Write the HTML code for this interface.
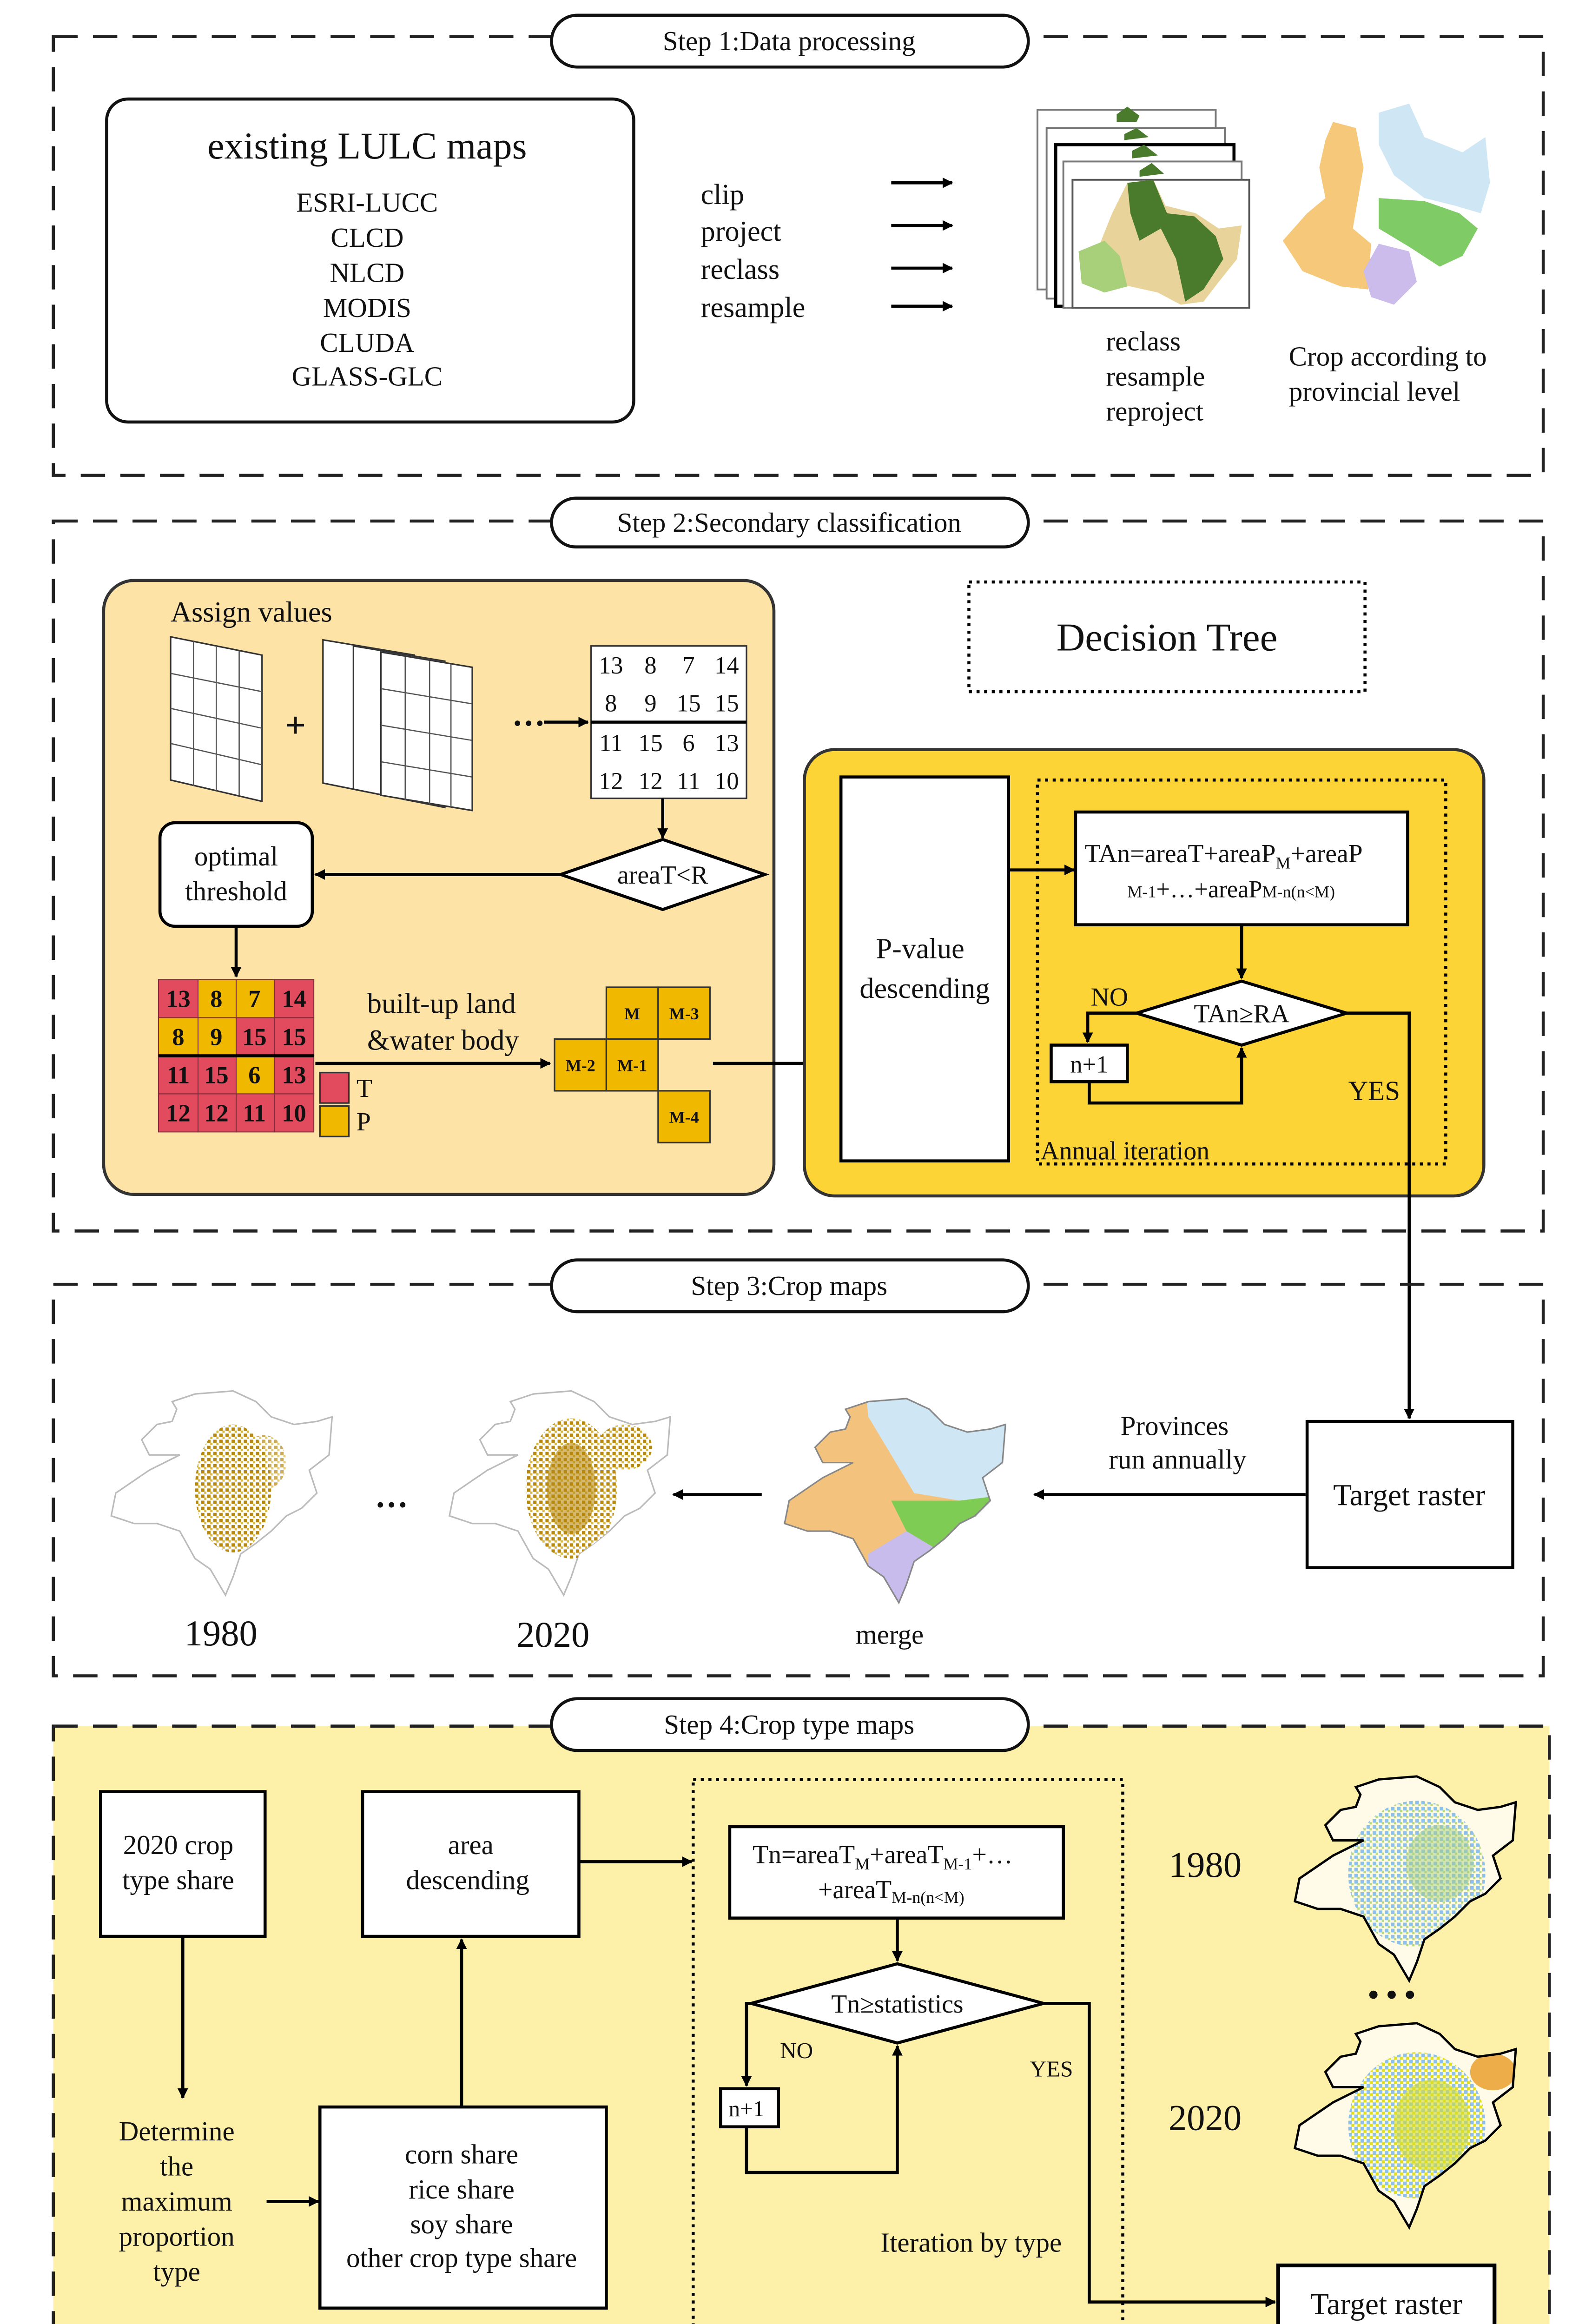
<!DOCTYPE html>
<html><head><meta charset="utf-8"><style>
html,body{margin:0;padding:0;background:#fff;width:3425px;height:5169px;overflow:hidden}
svg{display:block;position:absolute;left:0;top:0}
text{font-family:"Liberation Serif",serif;fill:#111}
</style></head><body>
<svg xmlns="http://www.w3.org/2000/svg" width="3425" height="5169" viewBox="0 0 1045 1577" preserveAspectRatio="none">
<defs>
<marker id="ar" viewBox="0 0 10 10" refX="9" refY="5" markerWidth="7" markerHeight="7" orient="auto-start-reverse" markerUnits="userSpaceOnUse"><path d="M0,0 L10,5 L0,10 z" fill="#000"/></marker>
<path id="ne" d="M45,15 L60,10 L85,8 L100,15 L110,25 L125,30 L140,28 L150,25 L148,50 L135,60 L140,75 L130,85 L120,90 L110,100 L100,108 L90,115 L85,130 L80,142 L70,125 L60,118 L50,100 L35,95 L20,95 L5,90 L8,75 L30,60 L50,50 L30,50 L25,40 L35,30 L45,28 L48,20 Z"/>
<clipPath id="neclip"><use href="#ne"/></clipPath>
<pattern id="dots" width="4" height="4" patternUnits="userSpaceOnUse"><rect width="4" height="4" fill="#fff"/><rect x="0" y="0" width="2.2" height="2.2" fill="#b8890f"/><rect x="2" y="2" width="1.5" height="1.5" fill="#d8b840"/></pattern>
<pattern id="bdots" width="4" height="4" patternUnits="userSpaceOnUse"><rect width="4" height="4" fill="#fffbe0"/><rect x="0" y="0" width="2.4" height="2.4" fill="#8ec0ec"/><rect x="2" y="2" width="1.5" height="1.5" fill="#b8d880"/></pattern>
<pattern id="ydots" width="4" height="4" patternUnits="userSpaceOnUse"><rect width="4" height="4" fill="#fffbe0"/><rect x="0" y="0" width="2.4" height="2.4" fill="#8ec0ec"/><rect x="2" y="2" width="2" height="2" fill="#e0e020"/></pattern>
</defs>

<!-- STEP 1 -->
<rect x="35" y="24" width="978" height="288" fill="none" stroke="#222" stroke-width="2" stroke-dasharray="16,10"/>
<rect x="362" y="10" width="313" height="34" rx="17" fill="#fff" stroke="#111" stroke-width="2"/>
<text x="518" y="33" font-size="18" text-anchor="middle">Step  1:Data processing</text>
<rect x="70" y="65" width="346" height="212" rx="14" fill="#fff" stroke="#111" stroke-width="2"/>
<text x="241" y="104" font-size="25" text-anchor="middle">existing LULC maps</text>
<g font-size="18" text-anchor="middle">
<text x="241" y="139">ESRI-LUCC</text><text x="241" y="162">CLCD</text><text x="241" y="185">NLCD</text>
<text x="241" y="208">MODIS</text><text x="241" y="231">CLUDA</text><text x="241" y="253">GLASS-GLC</text></g>
<g font-size="19"><text x="460" y="134">clip</text><text x="460" y="158">project</text><text x="460" y="183">reclass</text><text x="460" y="208">resample</text></g>
<g stroke="#000" stroke-width="2" marker-end="url(#ar)"><line x1="585" y1="120" x2="625" y2="120"/><line x1="585" y1="148" x2="625" y2="148"/><line x1="585" y1="176" x2="625" y2="176"/><line x1="585" y1="201" x2="625" y2="201"/></g>
<!-- stacked maps -->
<g stroke="#777" stroke-width="1.2" fill="#fff">
<rect x="681" y="72" width="117" height="118"/><rect x="687" y="84" width="117" height="112"/>
<rect x="693" y="95" width="117" height="106" stroke="#000" stroke-width="2"/><rect x="698" y="106" width="117" height="96"/>
<rect x="704" y="118" width="116" height="84" stroke="#555"/></g>
<g fill="#4a7a2c"><path d="M733,75 L740,70 L748,76 L746,80 L733,80Z"/><path d="M738,88 L746,84 L754,90 L738,92Z"/><path d="M743,99 L751,95 L760,102 L743,104Z"/><path d="M748,112 L756,107 L764,114 L748,116Z"/></g>
<path d="M740,120 L757,118 L765,135 L785,140 L800,150 L815,148 L812,170 L800,185 L790,198 L775,200 L760,192 L742,188 L712,185 L708,165 L722,160 L730,140 Z" fill="#e8d49a"/>
<path d="M740,120 L757,118 L766,140 L784,142 L798,155 L803,170 L790,190 L778,198 L772,170 L762,150 L748,158 L742,140 Z" fill="#4a7a2c"/>
<path d="M708,165 L725,158 L735,168 L740,188 L725,192 L710,186 Z" fill="#a8d07a"/>
<!-- province map -->
<path d="M870,92 L875,80 L890,84 L895,110 L888,150 L900,160 L898,190 L880,188 L855,178 L842,158 L858,140 L870,130 L866,110 Z" fill="#f5c87a"/>
<path d="M905,74 L925,68 L935,90 L960,100 L975,90 L978,120 L972,140 L955,135 L935,130 L915,115 L905,95 Z" fill="#cfe7f4"/>
<path d="M905,130 L935,132 L958,140 L970,150 L960,168 L945,175 L925,162 L905,150 Z" fill="#7fcc66"/>
<path d="M905,160 L925,165 L930,185 L915,200 L900,195 L895,178 Z" fill="#cbbcec"/>
<g font-size="18"><text x="726" y="230">reclass</text><text x="726" y="253">resample</text><text x="726" y="276">reproject</text>
<text x="846" y="240">Crop according to</text><text x="846" y="263">provincial level</text></g>

<!-- STEP 2 -->
<rect x="35" y="342" width="978" height="466" fill="none" stroke="#222" stroke-width="2" stroke-dasharray="16,10"/>
<rect x="362" y="327" width="313" height="32" rx="16" fill="#fff" stroke="#111" stroke-width="2"/>
<text x="518" y="349" font-size="18" text-anchor="middle">Step  2:Secondary classification</text>
<rect x="68" y="381" width="440" height="403" rx="20" fill="#fde3a6" stroke="#333" stroke-width="2"/>
<text x="112" y="408" font-size="19">Assign values</text>
<g fill="#fff" stroke="#333" stroke-width="1">
<path d="M112,418 L172,430 L172,526 L112,512 Z"/>
<path d="M212,420 L272,430 L272,526 L212,514 Z"/><path d="M232,424 L292,434 L292,530 L232,518 Z"/><path d="M250,428 L310,438 L310,532 L250,522 Z"/></g>
<g stroke="#555" stroke-width="0.8"><line x1="127" y1="421" x2="127" y2="516"/><line x1="142" y1="424" x2="142" y2="519"/><line x1="157" y1="427" x2="157" y2="522"/>
<line x1="112" y1="442" x2="172" y2="454"/><line x1="112" y1="465" x2="172" y2="478"/><line x1="112" y1="488" x2="172" y2="502"/>
<line x1="266" y1="431" x2="266" y2="525"/><line x1="282" y1="434" x2="282" y2="528"/><line x1="296" y1="436" x2="296" y2="530"/>
<line x1="250" y1="452" x2="310" y2="462"/><line x1="250" y1="476" x2="310" y2="486"/><line x1="250" y1="500" x2="310" y2="510"/></g>
<text x="194" y="484" font-size="24" text-anchor="middle" font-weight="bold">+</text>
<text x="336" y="482" font-size="22" font-weight="bold">···</text>
<line x1="357" y1="474" x2="386" y2="474" stroke="#000" stroke-width="2" marker-end="url(#ar)"/>
<rect x="388" y="424" width="102" height="100" fill="#fff" stroke="#333"/>
<line x1="388" y1="474" x2="490" y2="474" stroke="#000" stroke-width="2"/>
<g font-size="16" text-anchor="middle">
<text x="401" y="442">13</text><text x="427" y="442">8</text><text x="452" y="442">7</text><text x="477" y="442">14</text>
<text x="401" y="467">8</text><text x="427" y="467">9</text><text x="452" y="467">15</text><text x="477" y="467">15</text>
<text x="401" y="493">11</text><text x="427" y="493">15</text><text x="452" y="493">6</text><text x="477" y="493">13</text>
<text x="401" y="518">12</text><text x="427" y="518">12</text><text x="452" y="518">11</text><text x="477" y="518">10</text></g>
<line x1="435" y1="524" x2="435" y2="550" stroke="#000" stroke-width="2" marker-end="url(#ar)"/>
<path d="M368,574 L435,551 L502,574 L435,597 Z" fill="#fff" stroke="#000" stroke-width="2"/>
<text x="435" y="580" font-size="17" text-anchor="middle">areaT&lt;R</text>
<line x1="368" y1="574" x2="207" y2="574" stroke="#000" stroke-width="2" marker-end="url(#ar)"/>
<rect x="105" y="540" width="100" height="68" rx="10" fill="#fff" stroke="#000" stroke-width="2"/>
<text x="155" y="568" font-size="18" text-anchor="middle">optimal</text><text x="155" y="591" font-size="18" text-anchor="middle">threshold</text>
<line x1="155" y1="608" x2="155" y2="641" stroke="#000" stroke-width="2" marker-end="url(#ar)"/>
<g stroke="#7a2a3a" stroke-width="0.6">
<rect x="104" y="643" width="26" height="25" fill="#e24a5e"/><rect x="130" y="643" width="25" height="25" fill="#f1b800"/><rect x="155" y="643" width="25" height="25" fill="#f1b800"/><rect x="180" y="643" width="26" height="25" fill="#e24a5e"/>
<rect x="104" y="668" width="26" height="25" fill="#f1b800"/><rect x="130" y="668" width="25" height="25" fill="#f1b800"/><rect x="155" y="668" width="25" height="25" fill="#e24a5e"/><rect x="180" y="668" width="26" height="25" fill="#e24a5e"/>
<rect x="104" y="693" width="26" height="25" fill="#e24a5e"/><rect x="130" y="693" width="25" height="25" fill="#e24a5e"/><rect x="155" y="693" width="25" height="25" fill="#f1b800"/><rect x="180" y="693" width="26" height="25" fill="#e24a5e"/>
<rect x="104" y="718" width="26" height="25" fill="#e24a5e"/><rect x="130" y="718" width="25" height="25" fill="#e24a5e"/><rect x="155" y="718" width="25" height="25" fill="#e24a5e"/><rect x="180" y="718" width="26" height="25" fill="#e24a5e"/></g>
<line x1="104" y1="693" x2="206" y2="693" stroke="#000" stroke-width="2"/>
<g font-size="16" text-anchor="middle" font-weight="bold">
<text x="117" y="661">13</text><text x="142" y="661">8</text><text x="167" y="661">7</text><text x="193" y="661">14</text>
<text x="117" y="686">8</text><text x="142" y="686">9</text><text x="167" y="686">15</text><text x="193" y="686">15</text>
<text x="117" y="711">11</text><text x="142" y="711">15</text><text x="167" y="711">6</text><text x="193" y="711">13</text>
<text x="117" y="736">12</text><text x="142" y="736">12</text><text x="167" y="736">11</text><text x="193" y="736">10</text></g>
<rect x="210" y="704" width="19" height="20" fill="#e24a5e" stroke="#333" stroke-width="1"/>
<rect x="210" y="726" width="19" height="20" fill="#f1b800" stroke="#333" stroke-width="1"/>
<text x="234" y="720" font-size="17">T</text><text x="234" y="742" font-size="17">P</text>
<text x="241" y="665" font-size="19">built-up land</text><text x="241" y="689" font-size="19">&amp;water body</text>
<line x1="207" y1="698" x2="361" y2="698" stroke="#000" stroke-width="2" marker-end="url(#ar)"/>
<g fill="#f1b800" stroke="#333" stroke-width="1">
<rect x="398" y="648" width="34" height="34"/><rect x="432" y="648" width="34" height="34"/>
<rect x="364" y="682" width="34" height="34"/><rect x="398" y="682" width="34" height="34"/>
<rect x="432" y="716" width="34" height="34"/></g>
<g font-size="11" font-weight="bold" text-anchor="middle" style="font-family:'Liberation Sans',sans-serif">
<text x="415" y="669">M</text><text x="449" y="669">M-3</text><text x="381" y="703">M-2</text><text x="415" y="703">M-1</text><text x="449" y="737">M-4</text></g>
<line x1="468" y1="698" x2="550" y2="698" stroke="#000" stroke-width="2" marker-end="url(#ar)"/>
<rect x="636" y="382" width="260" height="72" fill="#fff" stroke="#000" stroke-width="2" stroke-dasharray="2,3"/>
<text x="766" y="427" font-size="26" text-anchor="middle">Decision Tree</text>
<rect x="528" y="492" width="446" height="293" rx="20" fill="#fdd436" stroke="#333" stroke-width="2"/>
<rect x="552" y="510" width="110" height="252" fill="#fff" stroke="#000" stroke-width="2"/>
<text x="604" y="629" font-size="19" text-anchor="middle">P-value</text><text x="607" y="655" font-size="19" text-anchor="middle">descending</text>
<rect x="681" y="512" width="268" height="252" fill="none" stroke="#000" stroke-width="2" stroke-dasharray="2,3"/>
<line x1="662" y1="571" x2="705" y2="571" stroke="#000" stroke-width="2" marker-end="url(#ar)"/>
<rect x="706" y="533" width="218" height="74" fill="#fff" stroke="#000" stroke-width="2"/>
<text x="712" y="566" font-size="17">TAn=areaT+areaP<tspan font-size="11" dy="4">M</tspan><tspan dy="-4">+areaP</tspan></text>
<text x="740" y="589" font-size="11">M-1<tspan font-size="16">+…+areaP</tspan>M-n(n&lt;M)</text>
<line x1="815" y1="607" x2="815" y2="642" stroke="#000" stroke-width="2" marker-end="url(#ar)"/>
<path d="M746,665 L815,644 L884,665 L815,686 Z" fill="#fff" stroke="#000" stroke-width="2"/>
<text x="815" y="671" font-size="17" text-anchor="middle">TAn≥RA</text>
<text x="716" y="660" font-size="17">NO</text>
<polyline points="746,665 714,665 714,684" fill="none" stroke="#000" stroke-width="2" marker-end="url(#ar)"/>
<rect x="690" y="686" width="50" height="24" fill="#fff" stroke="#000" stroke-width="2"/>
<text x="715" y="704" font-size="16" text-anchor="middle">n+1</text>
<polyline points="715,710 715,724 815,724 815,688" fill="none" stroke="#000" stroke-width="2" marker-end="url(#ar)"/>
<text x="885" y="722" font-size="18">YES</text>
<text x="683" y="761" font-size="17">Annual iteration</text>
<polyline points="884,665 925,665 925,931" fill="none" stroke="#000" stroke-width="2" marker-end="url(#ar)"/>

<!-- STEP 3 -->
<rect x="35" y="843" width="978" height="257" fill="none" stroke="#222" stroke-width="2" stroke-dasharray="16,10"/>
<rect x="362" y="827" width="313" height="34" rx="17" fill="#fff" stroke="#111" stroke-width="2"/>
<text x="518" y="850" font-size="18" text-anchor="middle">Step  3:Crop maps</text>
<g transform="translate(68,905)">
<use href="#ne" fill="#fff" stroke="#bbb" stroke-width="1"/>
<g clip-path="url(#neclip)"><ellipse cx="85" cy="72" rx="25" ry="42" fill="url(#dots)"/><ellipse cx="105" cy="55" rx="15" ry="18" fill="url(#dots)" opacity="0.7"/></g></g>
<g transform="translate(290,905)">
<use href="#ne" fill="#fff" stroke="#bbb" stroke-width="1"/>
<g clip-path="url(#neclip)"><ellipse cx="85" cy="72" rx="30" ry="46" fill="url(#dots)"/><ellipse cx="120" cy="45" rx="18" ry="15" fill="url(#dots)"/><ellipse cx="85" cy="72" rx="16" ry="30" fill="#b8890f" opacity="0.6"/></g></g>
<text x="246" y="995" font-size="22" font-weight="bold">···</text>
<text x="145" y="1080" font-size="24" text-anchor="middle">1980</text>
<text x="363" y="1081" font-size="24" text-anchor="middle">2020</text>
<line x1="500" y1="981" x2="442" y2="981" stroke="#000" stroke-width="2" marker-end="url(#ar)"/>
<g transform="translate(510,910)">
<g clip-path="url(#neclip)">
<rect x="0" y="0" width="160" height="150" fill="#f3c27c"/>
<path d="M58,0 L160,0 L160,70 L120,75 L90,70 L75,45 L60,20 Z" fill="#cfe7f4"/>
<path d="M75,75 L120,75 L160,70 L160,110 L110,110 L85,95 Z" fill="#7fcc55"/>
<path d="M60,110 L85,95 L110,110 L95,150 L60,150 Z" fill="#c8bcec"/></g>
<use href="#ne" fill="none" stroke="#888" stroke-width="1"/></g>
<text x="584" y="1079" font-size="18" text-anchor="middle">merge</text>
<text x="771" y="942" font-size="18" text-anchor="middle">Provinces</text><text x="773" y="964" font-size="18" text-anchor="middle">run annually</text>
<line x1="857" y1="981" x2="679" y2="981" stroke="#000" stroke-width="2" marker-end="url(#ar)"/>
<rect x="858" y="933" width="135" height="96" fill="#fff" stroke="#000" stroke-width="2"/>
<text x="925" y="988" font-size="20" text-anchor="middle">Target raster</text>

<!-- STEP 4 -->
<rect x="35" y="1133" width="982" height="427" fill="#fdf0a8" stroke="#222" stroke-width="2" stroke-dasharray="16,10"/>
<rect x="362" y="1115" width="313" height="34" rx="17" fill="#fff" stroke="#111" stroke-width="2"/>
<text x="518" y="1138" font-size="18" text-anchor="middle">Step  4:Crop type maps</text>
<rect x="66" y="1176" width="108" height="95" fill="#fff" stroke="#000" stroke-width="2"/>
<text x="117" y="1217" font-size="18" text-anchor="middle">2020 crop</text><text x="117" y="1240" font-size="18" text-anchor="middle">type share</text>
<line x1="120" y1="1271" x2="120" y2="1377" stroke="#000" stroke-width="2" marker-end="url(#ar)"/>
<g font-size="18" text-anchor="middle"><text x="116" y="1405">Determine</text><text x="116" y="1428">the</text><text x="116" y="1451">maximum</text><text x="116" y="1474">proportion</text><text x="116" y="1497">type</text></g>
<line x1="175" y1="1445" x2="209" y2="1445" stroke="#000" stroke-width="2" marker-end="url(#ar)"/>
<rect x="210" y="1383" width="188" height="132" fill="#fff" stroke="#000" stroke-width="2"/>
<g font-size="18" text-anchor="middle"><text x="303" y="1420">corn share</text><text x="303" y="1443">rice share</text><text x="303" y="1466">soy share</text><text x="303" y="1488">other crop type share</text></g>
<line x1="303" y1="1383" x2="303" y2="1273" stroke="#000" stroke-width="2" marker-end="url(#ar)"/>
<rect x="238" y="1176" width="142" height="95" fill="#fff" stroke="#000" stroke-width="2"/>
<text x="309" y="1217" font-size="18" text-anchor="middle">area</text><text x="307" y="1240" font-size="18" text-anchor="middle">descending</text>
<line x1="380" y1="1222" x2="454" y2="1222" stroke="#000" stroke-width="2" marker-end="url(#ar)"/>
<rect x="455" y="1168" width="282" height="360" fill="none" stroke="#000" stroke-width="2" stroke-dasharray="2,3"/>
<rect x="479" y="1199" width="219" height="60" fill="#fff" stroke="#000" stroke-width="2"/>
<text x="494" y="1223" font-size="17">Tn=areaT<tspan font-size="11" dy="4">M</tspan><tspan dy="-4">+areaT</tspan><tspan font-size="11" dy="4">M-1</tspan><tspan dy="-4">+…</tspan></text>
<text x="537" y="1246" font-size="17">+areaT<tspan font-size="11" dy="3">M-n(n&lt;M)</tspan></text>
<line x1="589" y1="1259" x2="589" y2="1287" stroke="#000" stroke-width="2" marker-end="url(#ar)"/>
<path d="M493,1315 L589,1289 L685,1315 L589,1341 Z" fill="#fff" stroke="#000" stroke-width="2"/>
<text x="589" y="1321" font-size="17" text-anchor="middle">Tn≥statistics</text>
<text x="512" y="1351" font-size="15">NO</text>
<polyline points="493,1315 490,1315 490,1369" fill="none" stroke="#000" stroke-width="2" marker-end="url(#ar)"/>
<rect x="473" y="1371" width="38" height="25" fill="#fff" stroke="#000" stroke-width="2"/>
<text x="490" y="1389" font-size="15" text-anchor="middle">n+1</text>
<polyline points="490,1396 490,1426 589,1426 589,1343" fill="none" stroke="#000" stroke-width="2" marker-end="url(#ar)"/>
<text x="676" y="1363" font-size="15">YES</text>
<text x="578" y="1478" font-size="18">Iteration by type</text>
<polyline points="685,1315 715,1315 715,1511 837,1511" fill="none" stroke="#000" stroke-width="2" marker-end="url(#ar)"/>
<rect x="839" y="1487" width="142" height="50" fill="#fff" stroke="#000" stroke-width="2.5"/>
<text x="910" y="1519" font-size="20" text-anchor="middle">Target raster</text>
<text x="791" y="1232" font-size="24" text-anchor="middle">1980</text>
<text x="791" y="1398" font-size="24" text-anchor="middle">2020</text>
<g transform="translate(845,1158)">
<use href="#ne" fill="#fffbe8"/>
<g clip-path="url(#neclip)"><ellipse cx="85" cy="72" rx="45" ry="48" fill="url(#bdots)"/><ellipse cx="100" cy="65" rx="22" ry="25" fill="#a8d080" opacity="0.5"/></g>
<use href="#ne" fill="none" stroke="#000" stroke-width="1.5"/></g>
<text x="898" y="1316" font-size="20" font-weight="bold">• • •</text>
<g transform="translate(845,1320)">
<use href="#ne" fill="#fffbe8"/>
<g clip-path="url(#neclip)"><ellipse cx="85" cy="75" rx="45" ry="48" fill="url(#ydots)"/><ellipse cx="95" cy="75" rx="25" ry="30" fill="#d4dc30" opacity="0.6"/><ellipse cx="135" cy="40" rx="15" ry="12" fill="#e89a20" opacity="0.8"/></g>
<use href="#ne" fill="none" stroke="#000" stroke-width="1.5"/></g>
</svg>
</body></html>
